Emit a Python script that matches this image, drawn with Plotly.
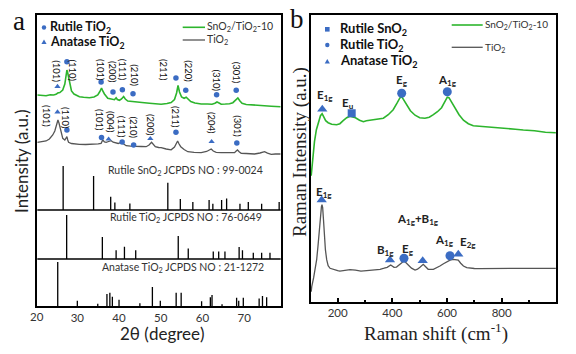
import plotly.graph_objects as go

# ---------------- Panel a : XRD ----------------
# SnO2/TiO2-10 pattern (2theta in degree, intensity a.u.)
xrd_comp_2theta = [20.4, 21.3, 22.5, 23.5, 24.3, 24.9, 25.3, 25.8, 26.5, 27.0, 27.3, 27.5, 27.7, 28.0, 28.3, 28.6,
                   29.2, 30.0, 30.5, 31.5, 32.9, 34.0, 34.9, 35.4, 35.8, 36.1, 36.5, 37.3, 38.2, 38.9, 39.3, 39.6,
                   40.1, 40.6, 41.1, 41.5, 42.1, 43.0, 44.1, 45.5, 47.3, 48.8, 50.1, 51.5, 52.5, 53.3, 53.8, 54.15,
                   54.5, 55.0, 55.6, 56.1, 56.5, 57.2, 58.2, 59.7, 61.2, 62.3, 63.0, 63.5, 64.0, 64.5, 65.5, 66.5,
                   67.3, 68.0, 68.5, 69.0, 69.5, 70.5, 71.8, 73.3, 75.0, 76.5, 78.77]
xrd_comp_int = [211, 210.5, 210.3, 211.2, 211, 211.7, 213, 213.5, 216, 222, 229, 236, 233, 226, 219, 215,
                212, 210, 209.3, 208.8, 208.3, 209, 211, 214.5, 218, 215, 212, 207.7, 206.5, 206.3, 208.3, 206.5,
                205.7, 207, 209.5, 207, 205, 204.8, 204.3, 203.5, 202.7, 202.5, 201.7, 202.5, 203.5, 206.5, 213, 220.5,
                214, 209, 207.7, 208.8, 207.2, 204.5, 203, 202, 202, 201.8, 202.7, 204, 203, 201.8, 202, 202.3,
                203.3, 206, 208, 205, 202.7, 201.5, 201, 200.3, 200, 199.8, 199.3]

# TiO2 pattern
xrd_tio2_2theta = [20.4, 21.3, 22.5, 23.3, 24.1, 24.6, 24.9, 25.15, 25.35, 25.6, 25.9, 26.2, 26.5, 27.0, 27.3, 27.5,
                   27.7, 27.9, 28.6, 29.5, 30.5, 32.0, 33.7, 35.0, 35.7, 36.1, 36.5, 36.9, 37.5, 38.1, 38.6, 39.3,
                   39.8, 40.5, 41.1, 41.7, 42.8, 44.1, 45.3, 46.5, 47.2, 47.8, 48.3, 48.7, 49.5, 50.1, 51.3, 52.5,
                   53.3, 53.7, 54.05, 54.4, 54.8, 55.6, 56.5, 58.0, 59.7, 61.0, 61.6, 62.1, 62.6, 63.3, 64.5, 66.0,
                   67.7, 68.1, 68.4, 68.8, 69.3, 70.5, 72.5, 73.8, 74.9, 75.6, 76.5, 77.5, 78.77]
xrd_tio2_int = [163.7, 164.3, 165, 167, 171, 175, 179.3, 184, 186, 183, 178, 172, 167.7, 166, 168, 169.3,
                166, 163.7, 162.5, 162, 161.7, 161.5, 161.7, 162.2, 162.7, 166, 164, 163.7, 164.5, 165.3, 163.8, 162.7,
                162.5, 163.7, 162, 160.3, 159.8, 159.3, 159.5, 159.3, 161, 163.7, 161, 159.3, 158.5, 158.3, 157, 156.2,
                159, 162, 165, 162, 159.3, 156.5, 154.3, 153.6, 153.3, 154.5, 156, 157, 155, 153.7, 153.3, 153.2,
                153.3, 155, 156, 154.2, 152.7, 152.5, 152, 153, 154.3, 152.8, 151.7, 152, 152]

# JCPDS reference lines (position, relative intensity)
ref_sno2_pos = [26.6, 33.9, 38.0, 39.0, 42.6, 51.7, 54.7, 57.7, 61.6, 62.5, 64.6, 65.8, 69.0, 71.0, 74.2, 78.4]
ref_sno2_int = [100, 77, 30, 17, 15, 62, 25, 18, 23, 14, 23, 26, 14, 18, 14, 18]
ref_rutile_pos = [27.44, 36.0, 39.3, 41.3, 44.0, 54.2, 56.6, 62.6, 63.9, 65.4, 68.8, 69.6, 72.2, 74.2, 76.2]
ref_rutile_int = [100, 50, 20, 28, 20, 52, 24, 17, 17, 17, 27, 20, 14, 14, 14]
ref_anatase_pos = [25.3, 30.0, 34.9, 37.1, 37.8, 38.4, 40.0, 45.0, 48.0, 49.9, 53.7, 54.9, 59.8, 61.9, 62.3,
                   64.7, 68.2, 68.7, 69.8, 73.6, 74.4, 75.4]
ref_anatase_int = [100, 12, 5, 27, 30, 21, 14, 6, 43, 12, 30, 30, 11, 20, 25, 4, 19, 12, 19, 17, 23, 20]

# Peak labels: (hkl, text 2theta, text y, marker 2theta, marker y, phase)
xrd_labels_comp = [("(101)", 25.05, 235, 25.25, 219.5, "A"), ("(110)", 28.85, 236, 27.5, 244.3, "R"),
                   ("(101)", 35.55, 235.5, 35.7, 224, "R"), ("(200)", 38.55, 234, 38.55, 214, "R"),
                   ("(111)", 41.0, 236, 40.8, 216.3, "R"), ("(210)", 43.75, 231, 43.35, 212.3, "R"),
                   ("(211)", 50.8, 236, 53.65, 228, "R"), ("(220)", 56.6, 234.5, 56.0, 215.7, "R"),
                   ("(310)", 63.4, 226, 63.4, 211.3, "R"), ("(301)", 68.35, 233, 68.1, 215.7, "R")]
xrd_labels_tio2 = [("(101)", 22.7, 190, 25.25, 194, "A"), ("(110)", 27.3, 188, 27.5, 176, "R"),
                   ("(101)", 35.45, 186, 35.8, 168.5, "R"), ("(004)", 38.1, 184, 37.5, 166.8, "A"),
                   ("(111)", 40.75, 179, 40.75, 164, "R"), ("(210)", 43.7, 178, 43.5, 161, "R"),
                   ("(200)", 47.55, 181.5, 47.5, 167.3, "A"), ("(211)", 53.65, 189, 53.65, 173.7, "R"),
                   ("(204)", 62.2, 183.5, 62.2, 164.3, "A"), ("(301)", 68.35, 179.5, 68.25, 163, "R")]
xrd_ticks = [30, 40, 50, 60, 70]

# ---------------- Panel b : Raman ----------------
raman_comp_shift = [103, 108, 115, 122, 130, 137, 143, 149, 156, 165, 178, 196, 208, 220, 233, 245, 255, 265, 280,
                    294, 305, 318, 335, 350, 367, 385, 403, 418, 428, 434, 441, 452, 466, 483, 500, 519, 535, 550,
                    565, 580, 592, 601, 607, 616, 629, 644, 660, 678, 696, 720, 757, 800, 850, 879, 920, 960, 998]
raman_comp_int = [126, 141, 160, 172, 181, 186, 188, 185, 181, 179, 177.5, 177, 178, 181, 184, 185.5, 185, 184, 181.5,
                  180, 181, 181.5, 182, 182.5, 183.5, 187, 192, 199, 204, 205, 202, 197, 191, 186.5, 184, 183.5, 184.5, 187,
                  190, 194, 200, 204.5, 204, 200, 194, 187, 181.5, 178, 176, 175.5, 175, 173.5, 172.5, 171.7, 171, 169.5, 169]

raman_tio2_shift = [103, 105, 112, 118, 123, 128, 132.7, 137, 140.5, 142.5, 145, 148, 150, 155, 159.7, 165, 172, 185,
                    200, 208, 225, 245, 265, 285, 306, 330, 355, 370, 381, 394, 406, 415, 425, 435, 442.5, 450, 458,
                    470, 483, 492, 501, 507, 513, 520, 531, 550, 563, 574, 587, 599, 611, 623, 634, 641, 650, 660, 672,
                    684, 700, 720, 760, 800, 850, 900, 950, 998]
raman_tio2_int = [10, 15, 24, 32, 42, 56, 72, 88, 95, 97, 94, 82, 72, 52, 42, 36, 33.4, 32, 31, 30.5, 31.5, 32, 31.5,
                  30.5, 31, 31.5, 32.4, 33.5, 34.4, 36.7, 34.4, 34.6, 36.7, 39, 40.7, 39, 36.5, 33.5, 31.7, 32.5,
                  34.4, 36, 37.4, 35.5, 32.4, 32.4, 33.8, 35.7, 38, 40, 41.5, 42.4, 42.2, 41.7, 38.5, 35.7, 34,
                  33.4, 33.2, 33, 33.2, 33.5, 33.3, 33.4, 33.3, 33.4]

# Raman labels: (text, text x, text y, marker x, marker y, phase)
raman_labels = [("E<sub>1g</sub>", 154, 206, 143.6, 192.4, "A"), ("E<sub>u</sub>", 236, 198, 251.2, 188.4, "S"),
                ("E<sub>g</sub>", 434.1, 221, 434.1, 208.4, "R"), ("A<sub>1g</sub>", 600, 221, 601, 210, "R"),
                ("E<sub>1g</sub>", 151, 109, 141.4, 101.7, "A"), ("A<sub>1g</sub>+B<sub>1g</sub>", 494.8, 82, 511, 41, "A"),
                ("B<sub>1g</sub>", 374, 51, 391.3, 41.7, "A"), ("E<sub>g</sub>", 457, 52.5, 442.5, 43.4, "R"),
                ("A<sub>1g</sub>", 590, 61.5, 610.8, 46, "R"), ("E<sub>2g</sub>", 676, 59.5, 641.2, 47.4, "A")]
raman_ticks = [200, 400, 600, 800]
raman_minor_ticks = [300, 500, 700, 900]

# ---------------- styling ----------------
W, H = 576, 354
GREEN = "#2db52d"
GRAY = "#555555"
BLUE = "#3b6cc3"
SANS = "Lato"
SERIF = "Liberation Serif, Times New Roman, DejaVu Serif, serif"


def PX(x):
    return x / W


def PY(y):
    return 1 - y / H


fig = go.Figure()

# reference stick patterns
for pos, inten, base in [(ref_anatase_pos, ref_anatase_int, 0), (ref_rutile_pos, ref_rutile_int, 47),
                         (ref_sno2_pos, ref_sno2_int, 96)]:
    xs, ys = [], []
    for p, i in zip(pos, inten):
        xs += [p, p, None]
        ys += [base, base + i * 0.44, None]
    fig.add_trace(go.Scatter(x=xs, y=ys, mode="lines", line=dict(color="black", width=1.3),
                             xaxis="x", yaxis="y", hoverinfo="skip"))

fig.add_trace(go.Scatter(x=xrd_tio2_2theta, y=xrd_tio2_int, mode="lines", line=dict(color=GRAY, width=1.3),
                         xaxis="x", yaxis="y"))
fig.add_trace(go.Scatter(x=xrd_comp_2theta, y=xrd_comp_int, mode="lines", line=dict(color=GREEN, width=1.6),
                         xaxis="x", yaxis="y"))

sym = {"A": "triangle-up", "R": "circle", "S": "square"}
annotations = []
for lab in xrd_labels_comp + xrd_labels_tio2:
    t, tx, ty, mx, my, ph = lab
    annotations.append(dict(x=tx, y=ty, xref="x", yref="y", text=t, showarrow=False, textangle=90,
                            font=dict(family=SANS, size=9.5, color="#111")))
for group in (xrd_labels_comp, xrd_labels_tio2):
    for ph in ("A", "R"):
        pts = [g for g in group if g[5] == ph]
        fig.add_trace(go.Scatter(x=[g[3] for g in pts], y=[g[4] for g in pts], mode="markers",
                                 marker=dict(symbol=sym[ph], size=5.5, color=BLUE),
                                 xaxis="x", yaxis="y"))

# Raman curves
fig.add_trace(go.Scatter(x=raman_tio2_shift, y=raman_tio2_int, mode="lines", line=dict(color=GRAY, width=1.3),
                         xaxis="x2", yaxis="y2"))
fig.add_trace(go.Scatter(x=raman_comp_shift, y=raman_comp_int, mode="lines", line=dict(color=GREEN, width=1.6),
                         xaxis="x2", yaxis="y2"))
for lab in raman_labels:
    t, tx, ty, mx, my, ph = lab
    annotations.append(dict(x=tx, y=ty, xref="x2", yref="y2", text="<b>" + t + "</b>", showarrow=False,
                            font=dict(family=SANS, size=11.5, color="#222")))
for ph in ("A", "R", "S"):
    pts = [g for g in raman_labels if g[5] == ph]
    fig.add_trace(go.Scatter(x=[g[3] for g in pts], y=[g[4] for g in pts], mode="markers",
                             marker=dict(symbol=sym[ph], size=9 if ph != "S" else 8, color=BLUE),
                             xaxis="x2", yaxis="y2"))

shapes = []
# dividers in panel a
for yv in (47, 96):
    shapes.append(dict(type="line", xref="x domain", yref="y", x0=0, x1=1, y0=yv, y1=yv,
                       line=dict(color="black", width=1.5)))


def marker_shape(kind, x, y, r):
    if kind == "circle":
        return dict(type="circle", xref="paper", yref="paper", x0=PX(x - r), x1=PX(x + r), y0=PY(y + r),
                    y1=PY(y - r), fillcolor=BLUE, line=dict(width=0))
    if kind == "square":
        return dict(type="rect", xref="paper", yref="paper", x0=PX(x - r), x1=PX(x + r), y0=PY(y + r),
                    y1=PY(y - r), fillcolor=BLUE, line=dict(width=0))
    path = "M {},{} L {},{} L {},{} Z".format(PX(x), PY(y - r), PX(x - r), PY(y + r * 0.8), PX(x + r), PY(y + r * 0.8))
    return dict(type="path", xref="paper", yref="paper", path=path, fillcolor=BLUE, line=dict(width=0))


def text_px(x, y, t, size, family=SANS, xanchor="left", color="#111", angle=0):
    annotations.append(dict(x=PX(x), y=PY(y), xref="paper", yref="paper", text=t, showarrow=False,
                            xanchor=xanchor, yanchor="middle", textangle=angle,
                            font=dict(family=family, size=size, color=color)))


# panel a legend
shapes.append(marker_shape("circle", 44, 27.5, 2.2))
shapes.append(marker_shape("triangle", 44, 42, 2.6))
text_px(48, 27.5, "<b>Rutile TiO<sub>2</sub></b>", 12.5)
text_px(48, 42, "<b>Anatase TiO<sub>2</sub></b>", 12.5)
shapes.append(dict(type="line", xref="paper", yref="paper", x0=PX(182.7), x1=PX(205), y0=PY(27.3), y1=PY(27.3),
                   line=dict(color=GREEN, width=1.6)))
shapes.append(dict(type="line", xref="paper", yref="paper", x0=PX(182.7), x1=PX(205), y0=PY(40), y1=PY(40),
                   line=dict(color=GRAY, width=1.3)))
text_px(205, 27.3, "SnO<sub>2</sub>/TiO<sub>2</sub>-10", 10.5, color="#333")
text_px(205, 40, "TiO<sub>2</sub>", 10.5, color="#333")

# panel b legend
shapes.append(marker_shape("square", 327.3, 29.3, 2.3))
shapes.append(marker_shape("circle", 327.3, 45, 2.2))
shapes.append(marker_shape("triangle", 327.3, 61.5, 2.6))
text_px(338, 29.3, "<b>Rutile SnO<sub>2</sub></b>", 13)
text_px(338, 45, "<b>Rutile TiO<sub>2</sub></b>", 13)
text_px(338, 61.5, "<b>Anatase TiO<sub>2</sub></b>", 13)
shapes.append(dict(type="line", xref="paper", yref="paper", x0=PX(451.7), x1=PX(482.7), y0=PY(25), y1=PY(25),
                   line=dict(color=GREEN, width=1.6)))
shapes.append(dict(type="line", xref="paper", yref="paper", x0=PX(451.7), x1=PX(482.7), y0=PY(47.3), y1=PY(47.3),
                   line=dict(color=GRAY, width=1.3)))
text_px(483, 25, "SnO<sub>2</sub>/TiO<sub>2</sub>-10", 10, color="#333")
text_px(483, 47.3, "TiO<sub>2</sub>", 10, color="#333")

# JCPDS captions
text_px(185, 171, "Rutile SnO<sub>2</sub> JCPDS NO : 99-0024", 10.5, xanchor="center", color="#333")
text_px(185.5, 218.5, "Rutile TiO<sub>2</sub> JCPDS NO : 76-0649", 10.5, xanchor="center", color="#333")
text_px(183.3, 267.5, "Anatase TiO<sub>2</sub> JCPDS NO : 21-1272", 10.5, xanchor="center", color="#333")

# axis titles, panel letters, edge tick label
text_px(162.5, 333, "2θ (degree)", 17, xanchor="center", color="#222")
text_px(21, 162, "Intensity (a.u.)", 17, xanchor="center", color="#222", angle=-90)
text_px(436, 332, "Raman shift (cm<sup>-1</sup>)", 19, family=SERIF, xanchor="center", color="#222")
text_px(300, 152, "Raman Intensity (a.u.)", 19, family=SERIF, xanchor="center", color="#222", angle=-90)
text_px(19, 21, "a", 27, family=SERIF, xanchor="center", color="#111")
text_px(297, 19, "b", 27, family=SERIF, xanchor="center", color="#111")
text_px(36.7, 316.5, "20", 11.5, xanchor="center", color="#333")

axis_common = dict(showline=True, mirror=True, linecolor="black", linewidth=1.5, showgrid=False, zeroline=False,
                   tickfont=dict(family=SANS, size=11.5, color="#333"))

fig.update_layout(
    width=W, height=H, margin=dict(l=0, r=0, t=0, b=0), showlegend=False,
    paper_bgcolor="white", plot_bgcolor="white",
    xaxis=dict(domain=[PX(37.3), PX(280.7)], range=[20.4, 78.77], tickvals=xrd_ticks, ticks="", anchor="y",
               **axis_common),
    yaxis=dict(domain=[PY(306), PY(15)], range=[0, 291], showticklabels=False, ticks="", anchor="x",
               **axis_common),
    xaxis2=dict(domain=[PX(311), PX(556)], range=[102.3, 998.7], tickvals=raman_ticks, ticks="inside",
                ticklen=4, tickwidth=1.5, tickcolor="black", anchor="y2",
                minor=dict(tickvals=raman_minor_ticks, ticks="inside", ticklen=2, tickwidth=1.5, tickcolor="black"),
                **axis_common),
    yaxis2=dict(domain=[PY(301.7), PY(15)], range=[0, 286.7], showticklabels=False, ticks="", anchor="x2",
                **axis_common),
    shapes=shapes, annotations=annotations,
)

fig.write_html("out.html")
